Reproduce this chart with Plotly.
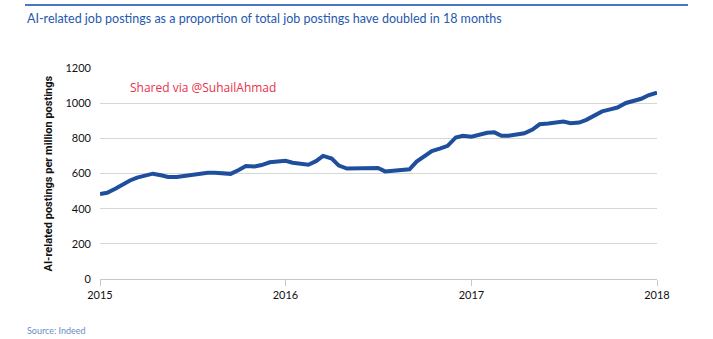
import pandas as pd
import plotly.graph_objects as go

# Semi-monthly observations, Jan 2015 - Jan 2018
dates = pd.date_range("2015-01-01", periods=73, freq="SMS")

postings_2015 = [483, 490, 515, 540, 560, 577, 592, 599, 590, 580, 580, 586,
                 593, 600, 604, 604, 602, 598, 620, 643, 640, 648, 664, 668]
postings_2016 = [672, 661, 658, 650, 670, 700, 685, 645, 628, 628, 628, 629,
                 631, 612, 616, 623, 624, 668, 700, 728, 743, 757, 805, 815]
postings_2017 = [809, 818, 832, 834, 815, 815, 825, 829, 850, 880, 884, 888,
                 895, 886, 890, 905, 930, 953, 965, 975, 1001, 1011, 1025, 1045]
postings_2018 = [1060]

values = postings_2015 + postings_2016 + postings_2017 + postings_2018

year_ticks = ["2015-01-01", "2016-01-01", "2017-01-01", "2018-01-01"]
year_labels = ["2015", "2016", "2017", "2018"]
y_ticks = [0, 200, 400, 600, 800, 1000, 1200]

title_text = "AI-related job postings as a proportion of total job postings have doubled in 18 months"
y_title = "AI-related postings per million postings"
source_text = "Source: Indeed"
watermark = "Shared via @SuhailAhmad"

fig = go.Figure()
fig.add_trace(go.Scatter(
    x=dates, y=values, mode="lines",
    line=dict(color="#1f4f9c", width=4),
    hoverinfo="x+y",
))

fig.update_layout(
    width=713, height=339,
    margin=dict(l=100, r=56, t=68, b=60),
    paper_bgcolor="white", plot_bgcolor="white",
    showlegend=False,
    font=dict(family="Lato, sans-serif", color="#222"),
    shapes=[dict(type="line", xref="paper", yref="paper",
                 x0=-75 / 557, x1=588 / 557, y0=1 + 63 / 211, y1=1 + 63 / 211,
                 line=dict(color="#4a74c4", width=2))],
    annotations=[
        dict(text=title_text, xref="paper", yref="paper",
             x=-75 / 557, y=1 + 50 / 211, xanchor="left", yanchor="middle",
             showarrow=False, font=dict(size=12.5, color="#2659ad", family="Lato, sans-serif")),
        dict(text=source_text, xref="paper", yref="paper",
             x=-75 / 557, y=-51 / 211, xanchor="left", yanchor="middle",
             showarrow=False, font=dict(size=9, color="#6b8cc8", family="Lato, sans-serif")),
        dict(text=watermark, xref="paper", yref="paper",
             x=28 / 557, y=1 - 19 / 211, xanchor="left", yanchor="middle",
             showarrow=False, font=dict(size=12, color="#e8314a", family="Open Sans, sans-serif")),
        dict(text=y_title, xref="paper", yref="paper",
             x=-52 / 557, y=0.5, xanchor="center", yanchor="middle", textangle=-90,
             showarrow=False,
             font=dict(size=11, color="#111", family="Roboto, sans-serif", weight="bold")),
    ],
)

fig.update_xaxes(
    type="date", range=["2015-01-01", "2018-01-01"],
    tickvals=year_ticks, ticktext=year_labels,
    showgrid=False, showline=True, linecolor="#c8c8c8", linewidth=1,
    ticks="outside", ticklen=6, tickcolor="#c8c8c8",
    tickfont=dict(size=11, color="#111"), zeroline=False,
)
fig.update_yaxes(
    range=[0, 1200], tickvals=y_ticks,
    showgrid=True, gridcolor="#d6d6d6", gridwidth=1,
    showline=False, zeroline=False,
    ticks="", ticklabelstandoff=8,
    tickfont=dict(size=11, color="#111"),
)

fig.write_html("out.html")
